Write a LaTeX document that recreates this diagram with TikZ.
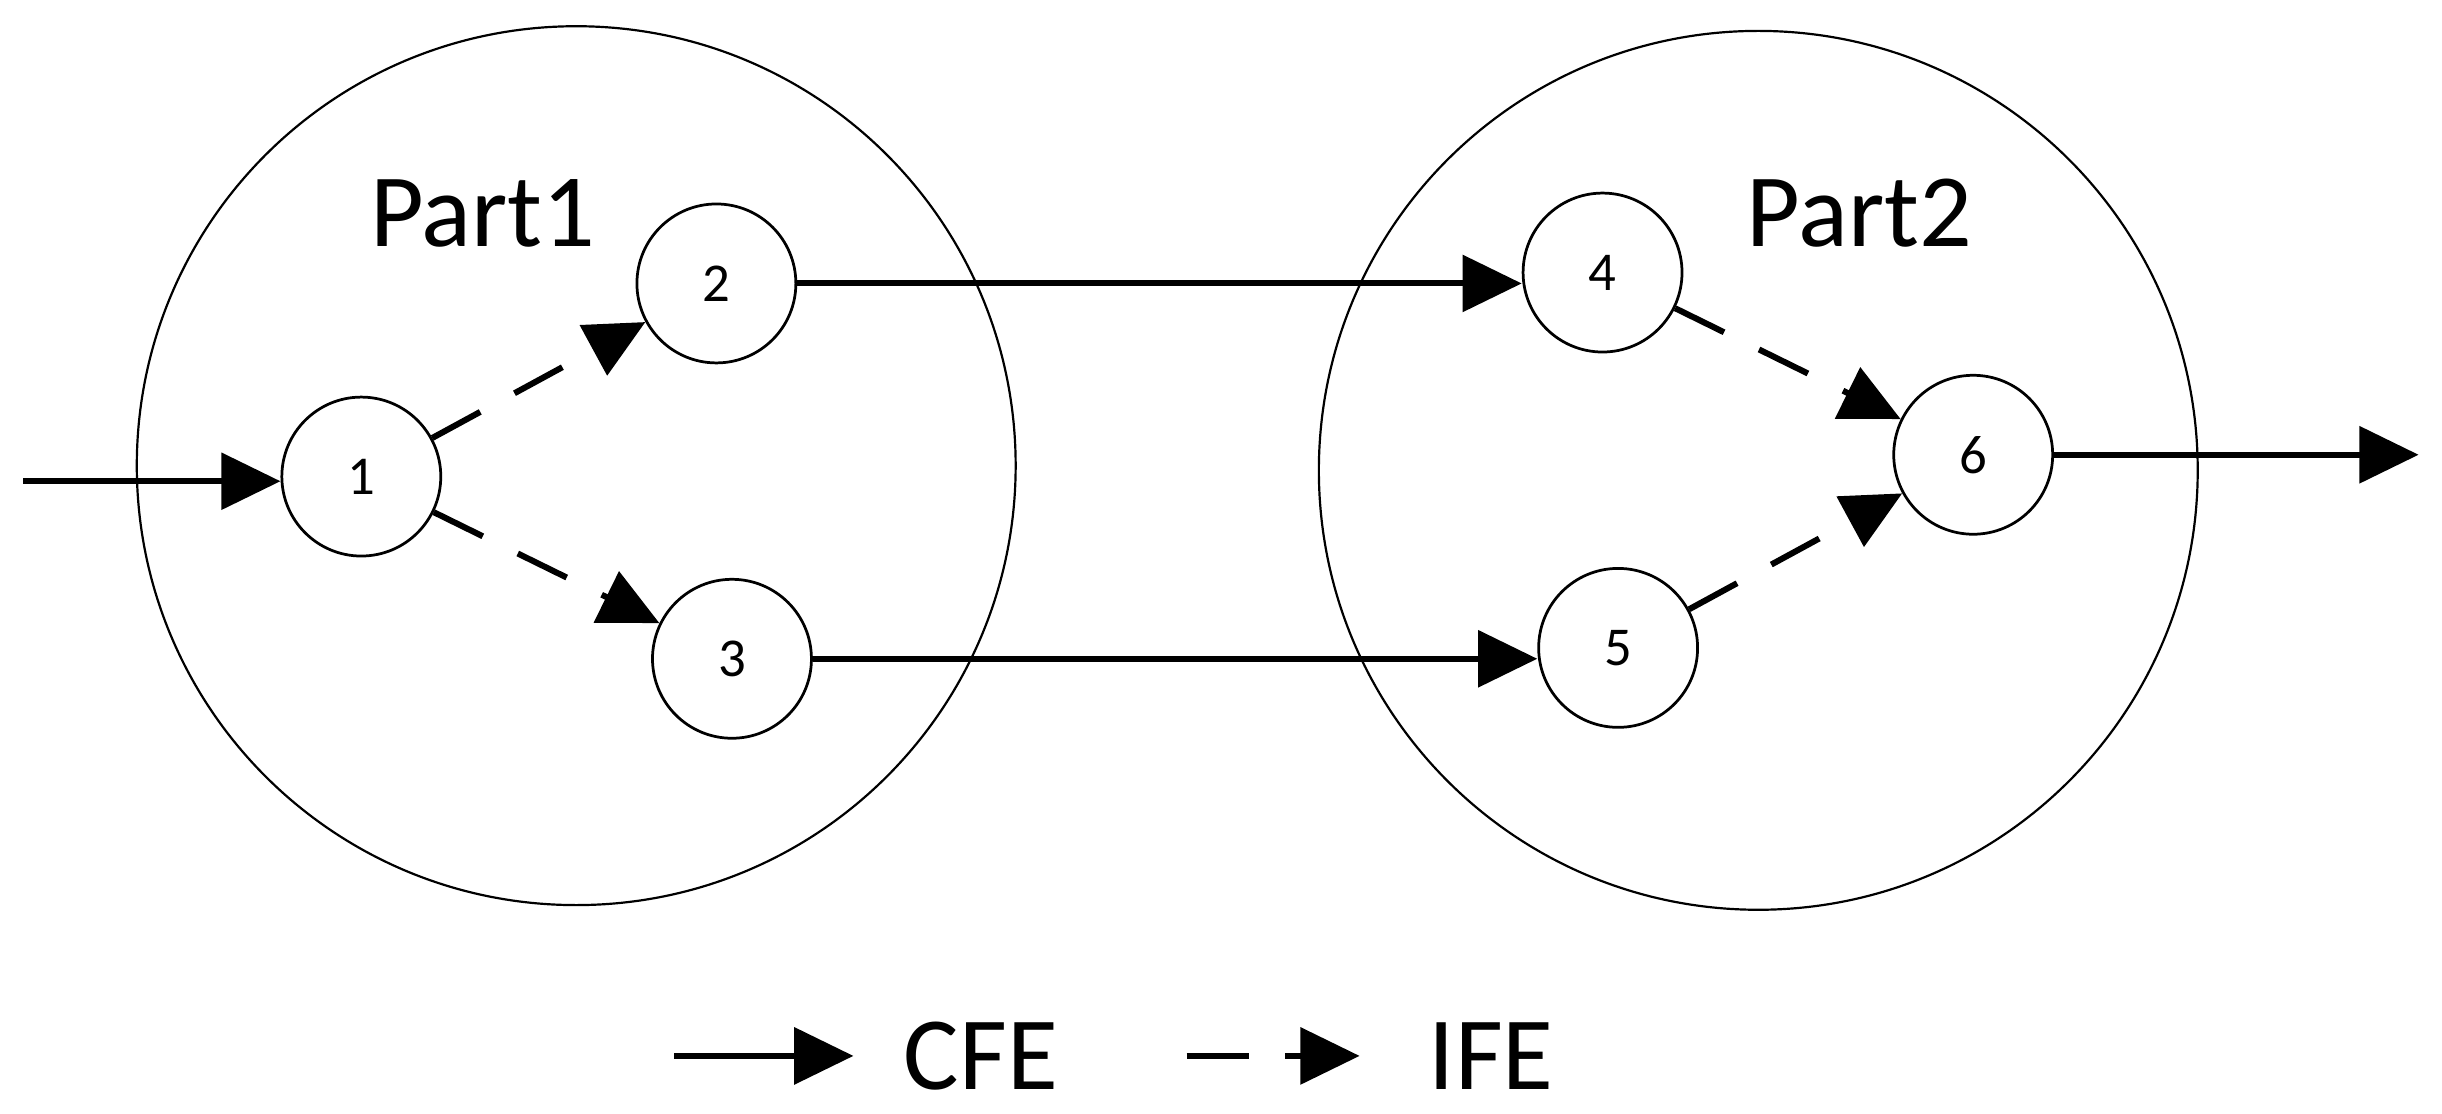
\documentclass[tikz,border=0pt]{standalone}
\usepackage{fontspec}
\setmainfont{Carlito}
\usetikzlibrary{arrows.meta}
\begin{document}
\begin{tikzpicture}[x=0.01cm,y=-0.01cm,
  big/.style={draw,circle,line width=0.4pt,minimum size=5.64cm,inner sep=0},
  sm/.style={draw,circle,line width=0.5pt,minimum size=1.02cm,inner sep=0,font=\fontsize{10}{12}\selectfont},
  cfe/.style={line width=1.1pt,-{Triangle[length=0.38cm,width=0.36cm]}},
  ife/.style={cfe,dash pattern=on 0.35cm off 0.25cm}]
\useasboundingbox (0,0) rectangle (1568,715);
\node[big] (P1) at (370,299) {};
\node[big] (P2) at (1129,302) {};
\node[font=\fontsize{19}{22}\selectfont] (t1) at (310,137) {Part1};
\node[font=\fontsize{19}{22}\selectfont] (t2) at (1194,137) {Part2};
\node[sm] (n1) at (232,306) {1};
\node[sm] (n2) at (460,182) {2};
\node[sm] (n3) at (470,423) {3};
\node[sm] (n4) at (1029,175) {4};
\node[sm] (n5) at (1039,416) {5};
\node[sm] (n6) at (1267,292) {6};
\coordinate (in) at (15,309);
\coordinate (out) at (1553,292);
\draw[cfe] (in) -- (n1.west |- in);
\draw[cfe] (n2.east) -- (n2.east -| n4.west);
\draw[cfe] (n3.east) -- (n3.east -| n5.west);
\draw[cfe] (n6.east) -- (out);
\draw[ife] (n1) -- (n2);
\draw[ife] (n1) -- (n3);
\draw[ife] (n4) -- (n6);
\draw[ife] (n5) -- (n6);
\coordinate (a1) at (433,678); \coordinate (a2) at (548,678);
\coordinate (b1) at (762,678); \coordinate (b2) at (873,678);
\draw[cfe] (a1) -- (a2);
\draw[ife,dash pattern=on 0.4cm off 0.23cm] (b1) -- (b2);
\node[font=\fontsize{19}{22}\selectfont,anchor=west] (lc) at (568,678) {CFE};
\node[font=\fontsize{19}{22}\selectfont,anchor=west] (li) at (905,678) {IFE};
\end{tikzpicture}
\end{document}
